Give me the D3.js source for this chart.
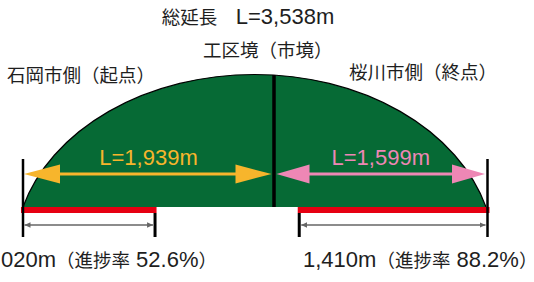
<!DOCTYPE html>
<html>
<head>
<meta charset="utf-8">
<script src="https://cdn.jsdelivr.net/npm/d3@7"></script>
<style>
  body { margin: 0; background: #fff; }
</style>
</head>
<body>
<script>
// section data (metres)
var totalLength = 3538;
var sectionNames = ["石岡市側（起点）", "桜川市側（終点）"];
var sectionLengths = [1939, 1599];
var progressDone = [1020, 1410];
var progressRate = [52.6, 88.2];
var boundaryName = "工区境（市境）";
var titleText = "総延長";

var width = 534, height = 282;
var baseY = 207;

var svg = d3.select("body")
    .append("svg")
    .attr("width", width)
    .attr("height", height);

var x = d3.scaleLinear()
    .domain([0, sectionLengths[0], totalLength])
    .range([23, 274, 487.5]);

var fmt = d3.format(",");

// mixed text: CJK runs smaller than latin runs
function mixedText(sel, str, latinSize, cjkSize) {
    var runs = str.match(/[\u3000-\u30ff\u4e00-\u9fff\uff00-\uffef]+|[^\u3000-\u30ff\u4e00-\u9fff\uff00-\uffef]+/g);
    runs.forEach(function (r) {
        var cjk = /[\u3000-\u30ff\u4e00-\u9fff\uff00-\uffef]/.test(r);
        sel.append("tspan")
            .attr("font-size", cjk ? cjkSize : latinSize)
            .attr("font-family", cjk ? "'Noto Sans CJK JP'" : "'Liberation Sans', Arial, sans-serif")
            .text(r);
    });
    return sel;
}

// dome (elliptical arc)
var rx = 240, ry = 180;
var x0 = x(0), x1 = x(totalLength) - 1.5;
var half = (x1 - x0) / 2, cx = (x0 + x1) / 2;
var cy = baseY + ry * Math.sqrt(1 - (half / rx) * (half / rx));

svg.append("path")
    .attr("d", "M" + x0 + "," + baseY + " A" + rx + "," + ry + " 0 0 1 " + x1 + "," + baseY + " Z")
    .attr("fill", "#066a35");

svg.append("path")
    .attr("d", "M" + x0 + "," + baseY + " A" + rx + "," + ry + " 0 0 1 " + x1 + "," + baseY)
    .attr("fill", "none")
    .attr("stroke", "#000")
    .attr("stroke-width", 1.2);

// red progress bars
var leftEnd = x(progressDone[0]);
var rightStart = x(totalLength - progressDone[1]);

svg.append("rect")
    .attr("x", x(0) - 2).attr("y", baseY)
    .attr("width", leftEnd + 1.5 - (x(0) - 2)).attr("height", 6)
    .attr("fill", "#e60012");

svg.append("rect")
    .attr("x", rightStart - 1.5).attr("y", baseY)
    .attr("width", x(totalLength) + 2 - (rightStart - 1.5)).attr("height", 6)
    .attr("fill", "#e60012");

// coloured section arrows
function bigArrow(xa, xb, y, color, headLen, headHalf) {
    svg.append("line")
        .attr("x1", xa + headLen - 2).attr("x2", xb - headLen + 2)
        .attr("y1", y).attr("y2", y)
        .attr("stroke", color).attr("stroke-width", 3);
    svg.append("path")
        .attr("d", "M" + xa + "," + y + " L" + (xa + headLen) + "," + (y - headHalf) + " L" + (xa + headLen) + "," + (y + headHalf) + " Z")
        .attr("fill", color);
    svg.append("path")
        .attr("d", "M" + xb + "," + y + " L" + (xb - headLen) + "," + (y - headHalf) + " L" + (xb - headLen) + "," + (y + headHalf) + " Z")
        .attr("fill", color);
}

var arrowY = 174;
bigArrow(x(0) + 1, x(sectionLengths[0]) - 2.5, arrowY, "#f7b52c", 36, 9.5);
bigArrow(x(sectionLengths[0]) + 2.5, x(totalLength) - 2.5, arrowY, "#ee87b5", 33, 9.5);

// black ticks
svg.append("line")
    .attr("x1", x(0)).attr("x2", x(0))
    .attr("y1", 159).attr("y2", 237)
    .attr("stroke", "#000").attr("stroke-width", 2.5);
svg.append("line")
    .attr("x1", x(totalLength)).attr("x2", x(totalLength))
    .attr("y1", 159).attr("y2", 237)
    .attr("stroke", "#000").attr("stroke-width", 2.5);
svg.append("line")
    .attr("x1", leftEnd).attr("x2", leftEnd)
    .attr("y1", baseY + 6).attr("y2", 237)
    .attr("stroke", "#000").attr("stroke-width", 3);
svg.append("line")
    .attr("x1", rightStart).attr("x2", rightStart)
    .attr("y1", baseY + 6).attr("y2", 237)
    .attr("stroke", "#000").attr("stroke-width", 3);

// boundary line
var bx = x(sectionLengths[0]);
var topY = cy - ry * Math.sqrt(1 - Math.pow((bx - cx) / rx, 2));
svg.append("line")
    .attr("x1", bx).attr("x2", bx)
    .attr("y1", topY).attr("y2", baseY)
    .attr("stroke", "#000").attr("stroke-width", 3.5);

// grey dimension arrows
svg.append("defs").append("marker")
    .attr("id", "tip")
    .attr("markerUnits", "userSpaceOnUse")
    .attr("markerWidth", 7).attr("markerHeight", 6)
    .attr("refX", 6).attr("refY", 2.75)
    .attr("orient", "auto-start-reverse")
    .append("path")
    .attr("d", "M0,0 L6,2.75 L0,5.5 Z")
    .attr("fill", "#666");

var dimY = 225;
[[x(0) + 1.5, leftEnd - 2], [rightStart + 2, x(totalLength) - 2]].forEach(function (s) {
    svg.append("line")
        .attr("x1", s[0]).attr("x2", s[1])
        .attr("y1", dimY).attr("y2", dimY)
        .attr("stroke", "#666").attr("stroke-width", 1.5)
        .attr("marker-start", "url(#tip)")
        .attr("marker-end", "url(#tip)");
});

// labels
var ink = "#1e1e1e";
var LS = 22, CS = 18.5;

mixedText(svg.append("text").attr("x", 248).attr("y", 24)
    .attr("text-anchor", "middle").attr("fill", ink),
    titleText + "\u3000L=" + fmt(totalLength) + "m", LS, CS);

mixedText(svg.append("text").attr("x", 203).attr("y", 57).attr("fill", ink),
    boundaryName, LS, CS);

mixedText(svg.append("text").attr("x", 7).attr("y", 82).attr("fill", ink),
    sectionNames[0], LS, CS);

mixedText(svg.append("text").attr("x", 349).attr("y", 79).attr("fill", ink),
    sectionNames[1], LS, CS);

svg.append("text")
    .attr("x", (x(0) + x(sectionLengths[0])) / 2).attr("y", 165)
    .attr("text-anchor", "middle")
    .attr("font-family", "'Liberation Sans', Arial, sans-serif")
    .attr("font-size", 22)
    .attr("fill", "#f7b52c")
    .text("L=" + fmt(sectionLengths[0]) + "m");

svg.append("text")
    .attr("x", (x(sectionLengths[0]) + x(totalLength)) / 2).attr("y", 165)
    .attr("text-anchor", "middle")
    .attr("font-family", "'Liberation Sans', Arial, sans-serif")
    .attr("font-size", 22)
    .attr("fill", "#ee87b5")
    .text("L=" + fmt(sectionLengths[1]) + "m");

mixedText(svg.append("text").attr("x", 217).attr("y", 266.5)
    .attr("text-anchor", "end").attr("fill", ink),
    fmt(progressDone[0]) + "m（進捗率 " + progressRate[0] + "%）", LS, CS);

mixedText(svg.append("text").attr("x", 303).attr("y", 267).attr("fill", ink),
    fmt(progressDone[1]) + "m（進捗率 " + progressRate[1] + "%）", LS, CS);
</script>
</body>
</html>
